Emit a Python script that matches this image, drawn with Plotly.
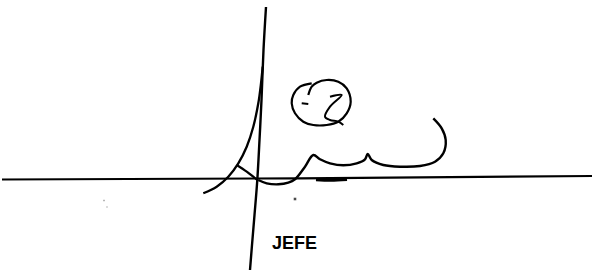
import plotly.graph_objects as go

# Strokes of the signature (pixel-space coordinates)
baseline_x = [2, 150, 300, 450, 592]
baseline_y = [179.5, 179, 178.3, 177.2, 176]

under_x = [316, 331, 347]
under_y = [179.6, 180.2, 179.4]

vertical_x = [266, 263.5, 261.5, 259.5, 257.3, 254.5, 252, 250]
vertical_y = [7, 50, 100, 140, 180, 215, 245, 270]

left_x = [203.3, 216.7, 228.3, 238.3, 246.7, 253.3, 258.3, 261, 262.7]
left_y = [193.3, 186.7, 176.7, 163.3, 146.7, 126.7, 103.3, 83.3, 66.7]

cross_x = [236.7, 246.7, 257.3]
cross_y = [165, 171.7, 180]

wave_x = [258.3, 266.7, 278.3, 288.3, 295, 305, 313.3, 320, 330, 343.3, 356.7, 365, 367.7,
          371.7, 383.3, 400, 420, 435, 443.3, 445.7, 441.7, 433.3]
wave_y = [180, 183.3, 184.3, 182.7, 179.3, 166.7, 155, 159.3, 163.3, 165.3, 163.3, 159.3, 154,
          160, 165, 166.7, 166, 161.7, 153.3, 140, 128.3, 118.3]

circle_x = [311.7, 300, 293.3, 291.7, 295, 303.3, 313.3, 326.7, 338.3, 346.7, 350.7, 346.7,
            338.3, 326.7, 316.7, 311.7, 308.3]
circle_y = [83.3, 86.7, 95, 103.3, 113.3, 121.7, 125, 125, 121.7, 113.3, 101.7, 88.3,
            81.7, 80, 82.7, 86.7, 95]

dash_x = [301.7, 308.3]
dash_y = [103.3, 104]

zed_x = [330, 341.7, 330, 325, 330, 338.3, 343.3]
zed_y = [96.7, 95, 106.7, 116.7, 120, 121.7, 125]

dots_x = [295, 104, 107]
dots_y = [199, 200.5, 207]

label_text = "JEFE"

fig = go.Figure()

def stroke(xs, ys, w=2.0, shape="spline"):
    fig.add_trace(go.Scatter(x=xs, y=ys, mode="lines",
                             line=dict(color="black", width=w, shape=shape, smoothing=1.0),
                             hoverinfo="skip", showlegend=False))

stroke(baseline_x, baseline_y, 2.2, "linear")
stroke(under_x, under_y, 3.2)
stroke(vertical_x, vertical_y, 2.4)
stroke(left_x, left_y, 2.3)
stroke(cross_x, cross_y, 2.2)
stroke(wave_x, wave_y, 2.4)
stroke(circle_x, circle_y, 2.2)
stroke(dash_x, dash_y, 2.0, "linear")
stroke(zed_x, zed_y, 2.0)

fig.add_trace(go.Scatter(x=dots_x, y=dots_y, mode="markers",
                         marker=dict(color="black", size=[4, 2, 2]),
                         hoverinfo="skip", showlegend=False))

fig.add_trace(go.Scatter(x=[294.5], y=[244.5], mode="text", text=["<b>" + label_text + "</b>"],
                         textfont=dict(family="Liberation Sans", size=18, color="black"),
                         textposition="middle center",
                         hoverinfo="skip", showlegend=False))

fig.update_layout(
    width=592, height=273,
    margin=dict(l=0, r=0, t=0, b=0),
    paper_bgcolor="white", plot_bgcolor="white",
    xaxis=dict(range=[0, 592], visible=False, fixedrange=True),
    yaxis=dict(range=[273, 0], visible=False, fixedrange=True),
)

fig.write_html("out.html", config={"displayModeBar": False},
               post_script="document.body.style.margin='0';document.body.style.overflow='hidden';")
